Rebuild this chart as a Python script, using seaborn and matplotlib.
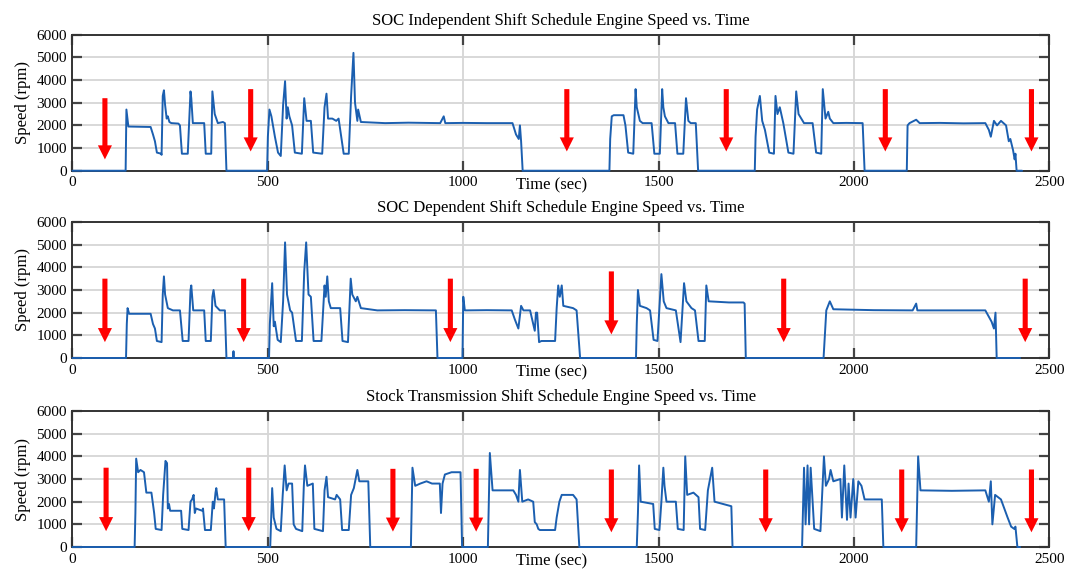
import matplotlib
matplotlib.use("Agg")
import matplotlib.pyplot as plt
import pandas as pd
import seaborn as sns

# Engine speed traces, (time in sec, speed in rpm)
indep_trace = [
    (0, 0), (136, 0), (138, 2700), (143, 1950), (170, 1940), (200, 1930), (206, 1600), (211, 1300),
    (216, 800), (227, 750), (228, 700), (231, 3300), (234, 3550), (237, 2900), (241, 2300), (244, 2400),
    (248, 2150), (253, 2100), (271, 2080), (275, 2000), (280, 750), (295, 750), (302, 3500), (304, 3200),
    (308, 2100), (337, 2100), (341, 750), (355, 750), (358, 3500), (364, 2500), (372, 2100), (385, 2150),
    (390, 2100), (394, 0), (498, 0), (500, 1500), (504, 2700), (509, 2400), (518, 1500), (526, 800),
    (533, 650), (539, 2900), (544, 3950), (548, 2300), (551, 2800), (555, 2400), (562, 2000), (569, 800),
    (587, 750), (593, 3200), (599, 2200), (610, 2200), (616, 800), (639, 750), (645, 2800), (650, 3400),
    (654, 2300), (665, 2300), (675, 2200), (681, 2300), (694, 750), (707, 750), (713, 3300), (719, 5200),
    (723, 3000), (729, 2200), (731, 2700), (738, 2150), (800, 2100), (860, 2120), (941, 2100), (950, 2400),
    (954, 2100), (1000, 2110), (1060, 2100), (1126, 2100), (1135, 1600), (1142, 1400), (1145, 2000),
    (1148, 1300), (1152, 0), (1374, 0), (1376, 1400), (1380, 2400), (1385, 2450), (1410, 2450),
    (1415, 2000), (1422, 800), (1435, 750), (1441, 3600), (1444, 2800), (1448, 2500), (1452, 2200),
    (1459, 2100), (1482, 2100), (1489, 750), (1503, 750), (1509, 3600), (1512, 2800), (1516, 2400),
    (1525, 2100), (1542, 2100), (1548, 750), (1563, 750), (1570, 3200), (1576, 2200), (1582, 2100),
    (1595, 2100), (1601, 0), (1746, 0), (1748, 1500), (1752, 2700), (1759, 3300), (1765, 2200),
    (1772, 1800), (1783, 800), (1795, 750), (1799, 3300), (1804, 2500), (1810, 2800), (1819, 2100),
    (1832, 800), (1845, 750), (1852, 3500), (1858, 2500), (1872, 2100), (1894, 2100), (1903, 800),
    (1916, 750), (1920, 3600), (1927, 2300), (1934, 2600), (1938, 2300), (1947, 2100), (1980, 2110),
    (2022, 2100), (2027, 0), (2135, 0), (2137, 2000), (2142, 2100), (2159, 2250), (2168, 2100),
    (2220, 2110), (2280, 2090), (2336, 2100), (2345, 1800), (2350, 1500), (2358, 2200), (2366, 2000),
    (2376, 2200), (2389, 2000), (2396, 1300), (2400, 1400), (2407, 900), (2411, 500), (2413, 750),
    (2416, 0), (2430, 0),
]

dep_trace = [
    (0, 0), (137, 0), (139, 1500), (141, 2200), (145, 1950), (200, 1950), (206, 1500), (211, 1300),
    (216, 750), (228, 700), (231, 2800), (234, 3600), (237, 2800), (244, 2200), (257, 2100), (275, 2100),
    (282, 750), (297, 750), (302, 3000), (304, 3200), (309, 2100), (337, 2100), (341, 750), (354, 750),
    (358, 2700), (361, 3000), (366, 2300), (377, 2100), (390, 2100), (394, 0), (411, 0), (412, 300),
    (413, 0), (503, 0), (505, 1500), (511, 3300), (515, 1400), (518, 1600), (525, 800), (533, 700),
    (539, 2500), (544, 5100), (549, 2800), (557, 2100), (562, 2000), (572, 750), (587, 750), (593, 3800),
    (598, 5100), (604, 2800), (610, 2700), (617, 750), (637, 750), (645, 3200), (648, 2700), (652, 3600),
    (656, 2500), (661, 2200), (685, 2200), (691, 750), (705, 700), (712, 3500), (716, 2800), (725, 2500),
    (729, 2700), (738, 2200), (780, 2100), (850, 2110), (930, 2100), (934, 0), (998, 0), (1000, 2700),
    (1004, 2100), (1060, 2110), (1124, 2100), (1132, 1700), (1141, 1300), (1148, 2300), (1154, 2100),
    (1171, 2100), (1183, 1200), (1186, 2000), (1189, 2000), (1194, 700), (1200, 750), (1235, 750),
    (1239, 2200), (1243, 3200), (1247, 2700), (1252, 3200), (1256, 2300), (1281, 2200), (1290, 2100),
    (1299, 0), (1442, 0), (1444, 1500), (1447, 3000), (1452, 2300), (1469, 2200), (1478, 2100),
    (1487, 800), (1497, 750), (1507, 3700), (1513, 2500), (1520, 2200), (1544, 2100), (1556, 700),
    (1565, 3300), (1571, 2500), (1584, 2200), (1593, 2100), (1602, 750), (1618, 750), (1622, 3200),
    (1628, 2500), (1680, 2450), (1717, 2450), (1720, 2400), (1723, 0), (1922, 0), (1929, 2100),
    (1938, 2500), (1947, 2150), (2050, 2110), (2150, 2100), (2159, 2400), (2162, 2100), (2250, 2100),
    (2336, 2100), (2352, 1600), (2358, 1300), (2362, 2000), (2365, 0), (2425, 0),
]

stock_trace = [
    (0, 0), (159, 0), (161, 1500), (163, 3900), (168, 3300), (174, 3400), (183, 3300), (189, 2400),
    (202, 2400), (209, 1500), (213, 800), (228, 750), (232, 2300), (238, 3800), (242, 3700), (244, 1700),
    (247, 1900), (250, 1600), (278, 1600), (281, 800), (297, 750), (302, 2000), (306, 2100), (310, 2300),
    (313, 1500), (316, 1700), (332, 1600), (334, 1700), (339, 750), (354, 750), (359, 2000), (362, 1700),
    (366, 2400), (368, 2600), (372, 2100), (388, 2100), (392, 0), (506, 0), (511, 2600), (515, 1300),
    (522, 800), (533, 700), (538, 2300), (543, 3600), (548, 2500), (553, 2800), (562, 2800), (566, 1000),
    (572, 800), (588, 700), (592, 2700), (595, 3600), (601, 2700), (615, 2800), (619, 800), (641, 700),
    (645, 2500), (650, 3100), (654, 2200), (672, 2100), (676, 2300), (685, 2100), (690, 750), (707, 750),
    (713, 2300), (720, 2600), (729, 3400), (734, 2900), (757, 2900), (762, 0), (866, 0), (870, 3500),
    (877, 2700), (890, 2800), (906, 2900), (920, 2800), (940, 2800), (943, 1500), (947, 2800),
    (953, 3200), (970, 3300), (993, 3300), (997, 0), (1063, 0), (1068, 4150), (1075, 2500), (1100, 2500),
    (1128, 2500), (1135, 2300), (1141, 2000), (1145, 3400), (1151, 2000), (1166, 2100), (1179, 2000),
    (1183, 1100), (1188, 1000), (1192, 800), (1196, 750), (1235, 750), (1239, 1300), (1246, 2000),
    (1252, 2300), (1281, 2300), (1290, 2100), (1297, 0), (1444, 0), (1447, 1500), (1450, 3600),
    (1454, 2000), (1486, 1900), (1490, 800), (1502, 750), (1507, 2000), (1512, 3500), (1515, 2700),
    (1520, 2000), (1544, 2000), (1549, 800), (1564, 750), (1568, 4000), (1573, 2300), (1589, 2400),
    (1602, 2200), (1606, 800), (1619, 750), (1626, 2500), (1637, 3500), (1643, 2000), (1664, 1900),
    (1686, 1800), (1689, 0), (1867, 0), (1872, 3500), (1876, 1000), (1881, 3600), (1885, 1000),
    (1889, 3500), (1898, 800), (1914, 700), (1919, 2500), (1923, 4000), (1928, 2700), (1936, 3000),
    (1940, 3400), (1947, 2900), (1965, 3000), (1969, 1300), (1975, 3600), (1982, 1200), (1986, 2800),
    (1991, 1300), (1998, 3000), (2004, 1300), (2011, 2900), (2019, 2700), (2027, 2100), (2071, 2100),
    (2075, 0), (2159, 0), (2164, 4000), (2170, 2500), (2250, 2480), (2336, 2500), (2345, 2000),
    (2350, 2900), (2354, 1000), (2361, 2300), (2376, 2100), (2393, 1300), (2402, 900), (2410, 800),
    (2413, 900), (2418, 0), (2425, 0),
]

# Engine-off markers: (time, arrow tail rpm, arrow tip rpm)
indep_arrows = [(83, 3200, 500), (456, 3600, 850), (1265, 3600, 850),
                (1673, 3600, 850), (2080, 3600, 850), (2454, 3600, 850)]
dep_arrows = [(83, 3500, 700), (438, 3500, 700), (967, 3500, 700),
              (1379, 3820, 1040), (1820, 3500, 700), (2438, 3500, 700)]
stock_arrows = [(86, 3500, 700), (451, 3500, 700), (820, 3450, 680), (1033, 3450, 680),
                (1379, 3420, 650), (1774, 3420, 650), (2122, 3420, 650), (2454, 3420, 650)]

titles = [
    "SOC Independent Shift Schedule Engine Speed vs. Time",
    "SOC Dependent Shift Schedule Engine Speed vs. Time",
    "Stock Transmission Shift Schedule Engine Speed vs. Time",
]
x_ticks = [0, 500, 1000, 1500, 2000, 2500]
y_ticks = [0, 1000, 2000, 3000, 4000, 5000, 6000]

sns.set_theme(style="whitegrid")
plt.rcParams["font.family"] = ["Liberation Serif", "DejaVu Serif"]

LINE = "#1b5fb0"
fig = plt.figure(figsize=(10.77, 5.76), dpi=100, facecolor="white")
bottoms = [0.7036, 0.3785, 0.0503]

panels = zip(titles, [indep_trace, dep_trace, stock_trace],
             [indep_arrows, dep_arrows, stock_arrows], bottoms)
for title, trace, arrows, b in panels:
    ax = fig.add_axes([0.0673, b, 0.9071, 0.2361])
    df = pd.DataFrame(trace, columns=["Time (sec)", "Speed (rpm)"])
    sns.lineplot(data=df, x="Time (sec)", y="Speed (rpm)", ax=ax,
                 estimator=None, sort=False, color=LINE, linewidth=1.4)
    # keep the idle (0 rpm) stretches visible on top of the bottom spine
    for ln in ax.lines:
        ln.set_clip_on(False)
        ln.set_zorder(3)
    for t, top, tip in arrows:
        ax.arrow(t, top, 0, tip - top, width=13, head_width=36, head_length=620,
                 length_includes_head=True, color="#ff0000", lw=0, zorder=5)
    ax.set_xlim(0, 2500)
    ax.set_ylim(0, 6000)
    ax.set_xticks(x_ticks)
    ax.set_yticks(y_ticks)
    ax.grid(True, color="#d6d6d6", linewidth=1.3)
    ax.set_axisbelow(True)
    for s in ax.spines.values():
        s.set_visible(True)
        s.set_color("#333333")
        s.set_linewidth(1.4)
        s.set_zorder(2.5)
    ax.tick_params(direction="in", length=7, width=1.6, color="#444444",
                   bottom=True, left=True, top=True, right=True,
                   labeltop=False, labelright=False, labelsize=11,
                   labelcolor="black", pad=4)
    ax.set_title(title, fontsize=12, pad=7, color="black")
    ax.set_ylabel("Speed (rpm)", fontsize=12, labelpad=4, color="black")
    ax.set_xlabel("Time (sec)", fontsize=12, color="black")
    ax.xaxis.set_label_coords(0.49, -0.05)

fig.savefig("out.png", dpi=100, facecolor="white")
